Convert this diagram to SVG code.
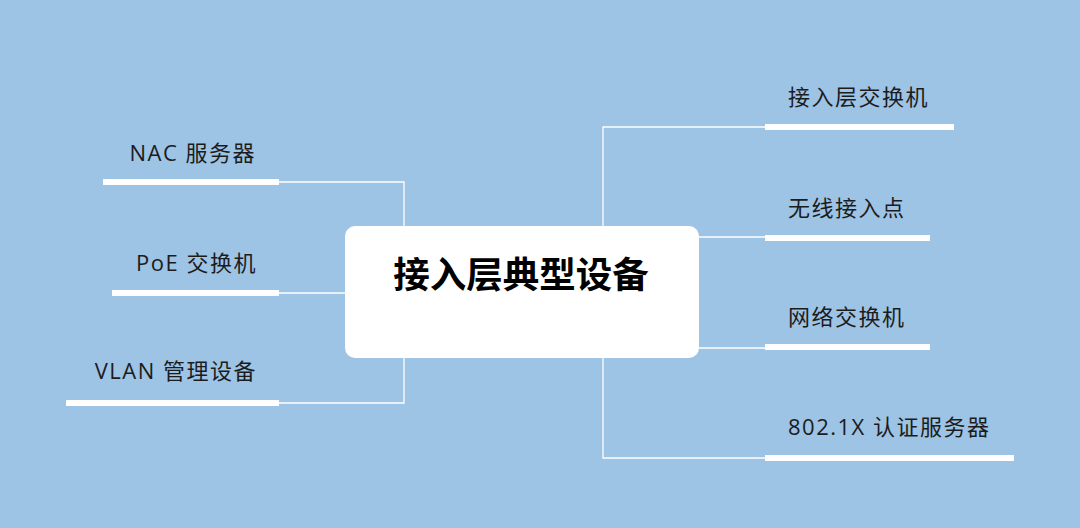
<svg xmlns="http://www.w3.org/2000/svg" width="1080" height="528" viewBox="0 0 1080 528">
<style>
.lbl{font-family:"Open Sans","Noto Sans CJK SC",sans-serif;font-size:22px;fill:#1c1c1c;letter-spacing:1.5px}
.end{text-anchor:end}
.title{font-family:"Noto Sans CJK SC",sans-serif;font-size:36.5px;font-weight:bold;fill:#000;text-anchor:middle}
.bar{fill:#fff}
.conn{fill:none;stroke:#fff;stroke-width:1.3}
</style>
<rect width="1080" height="528" fill="#9DC3E5"/>
<g id="connectors">
<path class="conn" d="M279 182 H404 V226"/>
<path class="conn" d="M279 293 H345"/>
<path class="conn" d="M279 403 H404 V358"/>
<path class="conn" d="M765 127 H603 V226"/>
<path class="conn" d="M699 237 H765"/>
<path class="conn" d="M699 348 H765"/>
<path class="conn" d="M765 458 H603 V358"/>
</g>
<g id="center">
<rect x="345" y="226" width="354" height="132" rx="10" fill="#fff"/>
<text class="title" x="521" y="288">接入层典型设备</text>
</g>
<g id="n-nac">
<rect class="bar" x="103" y="179" width="176" height="6"/>
<text class="lbl end" x="256" y="161">NAC 服务器</text>
</g>
<g id="n-poe">
<rect class="bar" x="112" y="290" width="167" height="6"/>
<text class="lbl end" x="257" y="271">PoE 交换机</text>
</g>
<g id="n-vlan">
<rect class="bar" x="66" y="400" width="213" height="6"/>
<text class="lbl end" x="257" y="379">VLAN 管理设备</text>
</g>
<g id="n-access-switch">
<rect class="bar" x="765" y="124" width="189" height="6"/>
<text class="lbl" x="788" y="105">接入层交换机</text>
</g>
<g id="n-ap">
<rect class="bar" x="765" y="235" width="165" height="6"/>
<text class="lbl" x="788" y="216">无线接入点</text>
</g>
<g id="n-net-switch">
<rect class="bar" x="765" y="344" width="165" height="6"/>
<text class="lbl" x="788" y="325">网络交换机</text>
</g>
<g id="n-8021x">
<rect class="bar" x="765" y="455" width="249" height="6"/>
<text class="lbl" x="788" y="435">802.1X 认证服务器</text>
</g>
</svg>
